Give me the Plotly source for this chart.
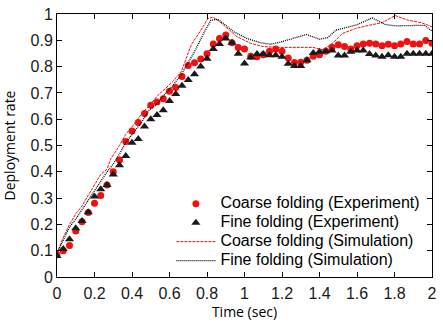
import plotly.graph_objects as go

# Experimental data: sampled at 30 fps (k/30 sec)
exp_time = [k / 30 for k in range(61)]
coarse_exp = [0.085, 0.10, 0.12, 0.175, 0.21, 0.245, 0.28, 0.31, 0.35, 0.40,
              0.445, 0.515, 0.555, 0.587, 0.622, 0.653, 0.665, 0.678, 0.706, 0.721,
              0.762, 0.804, 0.815, 0.829, 0.849, 0.886, 0.907, 0.92, 0.891, 0.873,
              0.867, 0.839, 0.837, 0.845, 0.858, 0.867, 0.858, 0.833, 0.816, 0.817,
              0.824, 0.839, 0.845, 0.858, 0.874, 0.883, 0.876, 0.867, 0.879, 0.886,
              0.889, 0.886, 0.879, 0.885, 0.879, 0.886, 0.895, 0.886, 0.886, 0.899,
              0.889]
fine_exp = [0.08, 0.106, 0.144, 0.185, 0.2125, 0.246, 0.306, 0.334, 0.35, 0.39,
            0.425, 0.46, 0.51, 0.525, 0.572, 0.60, 0.616, 0.634, 0.669, 0.696,
            0.727, 0.749, 0.771, 0.80, 0.83, 0.867, 0.886, 0.907, 0.891, 0.849,
            0.812, 0.835, 0.848, 0.848, 0.843, 0.843, 0.837, 0.811, 0.802, 0.802,
            0.824, 0.852, 0.856, 0.858, 0.861, 0.842, 0.842, 0.856, 0.861, 0.861,
            0.848, 0.842, 0.837, 0.843, 0.837, 0.837, 0.849, 0.849, 0.849, 0.849,
            0.849]

# Simulation curves
coarse_sim_time = [0.0, 0.033, 0.067, 0.1, 0.133, 0.167, 0.2, 0.233, 0.267, 0.286,
                   0.333, 0.365, 0.41, 0.453, 0.488, 0.537, 0.576, 0.62, 0.664, 0.716,
                   0.768, 0.804, 0.83, 0.86, 0.89, 0.96, 1.03, 1.10, 1.19, 1.277,
                   1.365, 1.418, 1.47, 1.523, 1.593, 1.663, 1.734, 1.804, 1.874, 1.944,
                   2.0]
coarse_sim = [0.09, 0.15, 0.20, 0.24, 0.27, 0.31, 0.35, 0.39, 0.41, 0.448,
              0.50, 0.541, 0.58, 0.622, 0.648, 0.69, 0.715, 0.745, 0.783, 0.883,
              0.939, 0.982, 0.988, 0.975, 0.957, 0.914, 0.889, 0.876, 0.873, 0.873,
              0.873, 0.864, 0.889, 0.926, 0.945, 0.957, 0.967, 0.994, 0.976, 0.967,
              0.951]
fine_sim_time = [0.0, 0.033, 0.067, 0.1, 0.133, 0.167, 0.2, 0.233, 0.267, 0.3,
                 0.333, 0.365, 0.41, 0.453, 0.488, 0.537, 0.576, 0.62, 0.664, 0.734,
                 0.786, 0.821, 0.856, 0.89, 0.944, 1.014, 1.084, 1.137, 1.19, 1.277,
                 1.33, 1.40, 1.444, 1.488, 1.54, 1.602, 1.681, 1.751, 1.804, 1.892,
                 1.96, 2.0]
fine_sim = [0.09, 0.14, 0.19, 0.22, 0.255, 0.29, 0.33, 0.36, 0.40, 0.43,
            0.467, 0.51, 0.55, 0.59, 0.632, 0.66, 0.696, 0.73, 0.771, 0.858,
            0.932, 0.976, 0.98, 0.963, 0.932, 0.907, 0.891, 0.885, 0.893, 0.911,
            0.922, 0.904, 0.91, 0.939, 0.948, 0.96, 0.985, 0.96, 0.955, 0.955,
            0.957, 0.935]

x_ticks = [0, 0.2, 0.4, 0.6, 0.8, 1, 1.2, 1.4, 1.6, 1.8, 2]
y_ticks = [0, 0.1, 0.2, 0.3, 0.4, 0.5, 0.6, 0.7, 0.8, 0.9, 1]

RED = "#f01010"
BLACK = "#1a1a1a"


def leg(name):
    return '<span style="font-size:16px">' + name + '</span>'


fig = go.Figure()
fig.add_trace(go.Scatter(x=exp_time, y=coarse_exp, mode="markers",
                         name=leg("Coarse folding (Experiment)"),
                         marker=dict(symbol="circle", size=7, color=RED)))
fig.add_trace(go.Scatter(x=exp_time, y=fine_exp, mode="markers",
                         name=leg("Fine folding (Experiment)"),
                         marker=dict(symbol="triangle-up", size=8, color=BLACK)))
fig.add_trace(go.Scatter(x=coarse_sim_time, y=coarse_sim, mode="lines",
                         name=leg("Coarse folding (Simulation)"),
                         line=dict(color=RED, width=1, dash="3px,1px")))
fig.add_trace(go.Scatter(x=fine_sim_time, y=fine_sim, mode="lines",
                         name=leg("Fine folding (Simulation)"),
                         line=dict(color="black", width=1.3, dash="1px,1px")))

axis_common = dict(showline=True, linecolor="black", linewidth=1, mirror="ticks",
                   ticks="inside", ticklen=5, tickcolor="black", showgrid=False,
                   zeroline=False, ticklabeloverflow="allow",
                   tickfont=dict(family="Liberation Sans, Arial", size=16, color="#1a1a1a"))

fig.update_layout(
    width=443, height=323,
    margin=dict(l=57, r=6, t=8, b=46),
    paper_bgcolor="white", plot_bgcolor="white",
    xaxis=dict(range=[0, 2], tickvals=x_ticks, ticklabelstandoff=2,
               title=dict(text="Time (sec)", standoff=1,
                          font=dict(family="Open Sans", size=14, color="black")),
               **axis_common),
    yaxis=dict(range=[0, 1], tickvals=y_ticks,
               title=dict(text="Deployment rate", standoff=13,
                          font=dict(family="Open Sans", size=14, color="black")),
               **axis_common),
    legend=dict(x=0.305, y=0.334, xanchor="left", yanchor="top",
                bgcolor="rgba(0,0,0,0)", itemwidth=39,
                font=dict(family="Liberation Sans, Arial", size=11, color="black")),
    showlegend=True,
)

fig.write_html("out.html")
